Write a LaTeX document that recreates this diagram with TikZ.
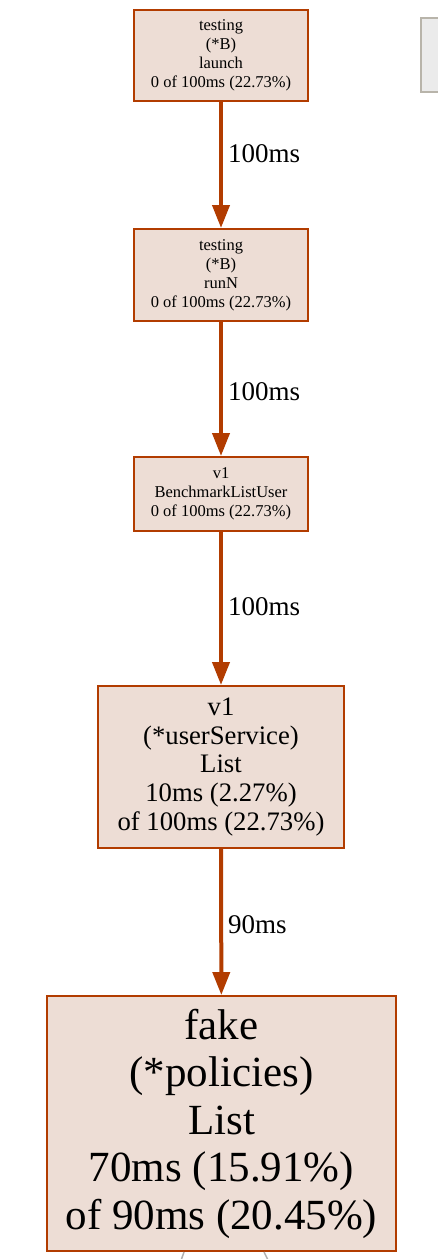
\documentclass[tikz,border=0pt]{standalone}
\usepackage{fontspec}
\setmainfont{Liberation Serif}
\usetikzlibrary{arrows.meta}
\definecolor{edgecol}{HTML}{B23C00}
\definecolor{boxfill}{HTML}{EDDDD5}
\definecolor{grayfill}{HTML}{EBEBEB}
\definecolor{grayline}{HTML}{B8B4AA}
\definecolor{grayedgecol}{HTML}{B0B0B0}
\tikzset{
  fnbox/.style={draw=edgecol, fill=boxfill, line width=2pt, rectangle, inner sep=0pt, align=center, text=black},
  smallbox/.style={fnbox, minimum width=174pt, font=\fontsize{16.5}{19}\selectfont},
  flowedge/.style={draw=edgecol, line width=4pt, -{Triangle[length=23pt,width=17pt]}},
  edgelabel/.style={anchor=west, inner sep=0pt, xshift=5pt, font=\fontsize{27}{30}\selectfont},
  grayedge/.style={draw=grayedgecol, line width=1.5pt},
}
\begin{document}
\begin{tikzpicture}[x=1pt,y=-1pt]
\useasboundingbox[fill=white] (0,0) rectangle (438,1259);
\node[draw=grayline, fill=grayfill, line width=2pt, minimum width=40pt, minimum height=74pt, inner sep=0pt] (legend) at (441,55) {};
\node[smallbox, minimum height=91pt] (b1) at (221,55.5) {testing\\(*B)\\launch\\0 of 100ms (22.73\%)};
\node[smallbox, minimum height=92pt] (b2) at (221,275) {testing\\(*B)\\runN\\0 of 100ms (22.73\%)};
\node[smallbox, minimum height=74pt] (b3) at (221,494) {v1\\BenchmarkListUser\\0 of 100ms (22.73\%)};
\node[fnbox, minimum width=246pt, minimum height=162pt, font=\fontsize{26.7}{28.7}\selectfont] (b4) at (221,767) {v1\\(*userService)\\List\\10ms (2.27\%)\\of 100ms (22.73\%)};
\node[fnbox, minimum width=349pt, minimum height=255pt, font=\fontsize{43}{47.5}\selectfont] (b5) at (221.5,1123.5) {fake\\(*policies)\\List\\70ms (15.91\%)\\of 90ms (20.45\%)};
\draw[flowedge] (b1) -- (b2) node[edgelabel, pos=0.41] {100ms};
\draw[flowedge] (b2) -- (b3) node[edgelabel, pos=0.52] {100ms};
\draw[flowedge] (b3) -- (b4) node[edgelabel, pos=0.49] {100ms};
\draw[flowedge] (b4) -- (b5) node[edgelabel, pos=0.52] {90ms};
\coordinate (g1) at (180.5,1262);
\coordinate (g2) at (269,1262);
\draw[grayedge] ([xshift=-37.5pt]b5.south) -- (g1);
\draw[grayedge] ([xshift=42.5pt]b5.south) -- (g2);
\end{tikzpicture}
\end{document}
